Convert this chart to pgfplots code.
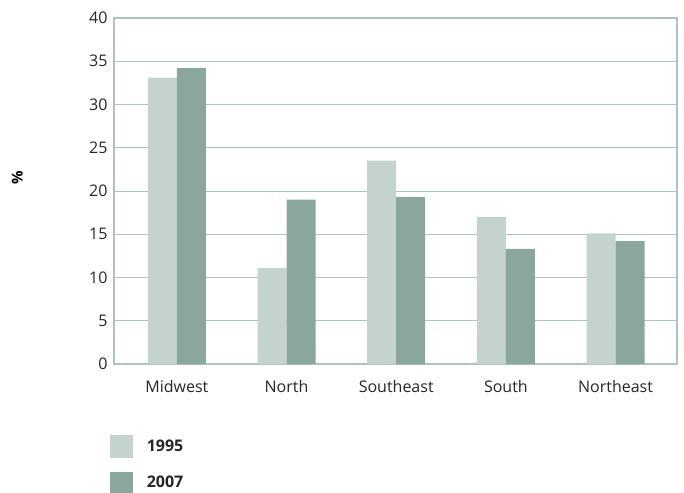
\documentclass[border=0pt]{standalone}
\usepackage{pgfplots}
\pgfplotsset{compat=1.18}
\usepackage{fontspec}
\setmainfont{Open Sans}

\definecolor{light}{RGB}{196,211,205}
\definecolor{dark}{RGB}{138,166,157}
\definecolor{gridc}{RGB}{172,196,188}

\begin{document}
\begin{tikzpicture}[x=1pt,y=1pt]
   \path[use as bounding box] (0,0) rectangle (684,492);
   \begin{axis}[
      at={(114pt,128pt)}, anchor=south west,
      scale only axis,
      width=563pt, height=346pt,
      ybar=0pt, bar width=29pt,
      xmin=-0.573, xmax=4.56,
      ymin=0, ymax=40,
      xtick={0,1,2,3,4},
      xticklabels={Midwest,North,Southeast,South,Northeast},
      ytick={0,5,...,40},
      ymajorgrids,
      grid style={gridc, line width=0.9pt},
      axis line style={gridc, line width=1.2pt},
      major tick length=0pt,
      tick label style={font=\fontsize{16}{19}\selectfont, text=black!85},
      /pgf/number format/assume math mode=true,
      yticklabel style={xshift=-3pt},
      xticklabel style={anchor=center, yshift=-22pt},
      ylabel={\textbf{\%}},
      ylabel style={at={(axis description cs:-0.172,0.538)}, anchor=center, font=\fontsize{15}{18}\selectfont},
      legend style={at={(axis description cs:-0.007,-0.205)}, anchor=north west,
         draw=none, fill=none, inner sep=0pt, outer sep=0pt,
         row sep=14pt,
         nodes={inner sep=0pt, font=\bfseries\fontsize{16}{19}\selectfont, text=black!85}},
      legend cell align=left,
      /tikz/every odd column/.append style={column sep=14pt},
      legend image code/.code={\fill[#1,draw=none] (0pt,-11.3pt) rectangle (22.7pt,11.3pt);},
   ]
   \addplot[fill=light, draw=none] coordinates {
      (0,33.1) (1,11.1) (2,23.5) (3,17.0) (4,15.1)
   };
   \addplot[fill=dark, draw=none] coordinates {
      (0,34.2) (1,19.0) (2,19.3) (3,13.3) (4,14.2)
   };
   \legend{1995,2007}
   \end{axis}
\end{tikzpicture}
\end{document}
